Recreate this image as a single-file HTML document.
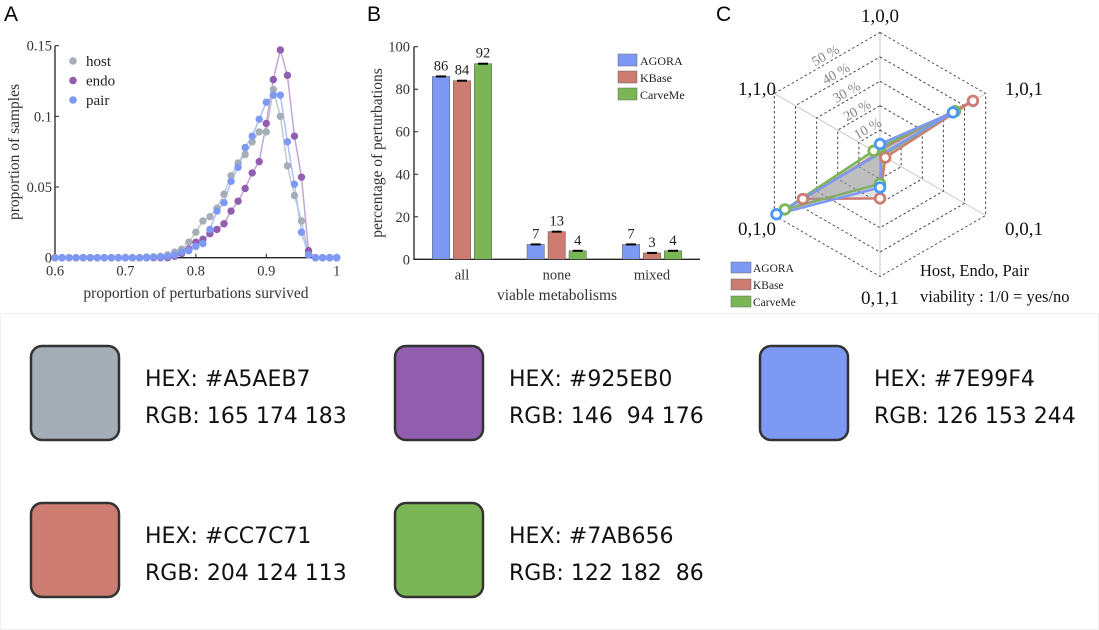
<!DOCTYPE html>
<html><head><meta charset="utf-8">
<style>
html,body{margin:0;padding:0;background:#fff;}
svg{display:block;}
.serif{font-family:"Liberation Serif","DejaVu Serif",serif;}
.sw{font-family:"DejaVu Sans","Liberation Sans",sans-serif;font-size:22px;fill:#111;}
</style></head>
<body>
<svg id="root" width="1099" height="630" viewBox="0 0 1099 630" xmlns="http://www.w3.org/2000/svg">
<rect x="0.5" y="313.5" width="1098" height="316" fill="#fff" stroke="#f0f0f0"/>
<text x="4" y="21" font-family="Liberation Sans,sans-serif" font-size="21">A</text>
<text x="367" y="21" font-family="Liberation Sans,sans-serif" font-size="21">B</text>
<text x="716" y="21" font-family="Liberation Sans,sans-serif" font-size="21">C</text>
<g id="panelA" class="serif"></g>
<g id="panelB" class="serif"></g>
<g id="panelC" class="serif"></g>
<g id="swatches"></g>
</svg>
<script>
// ---- Panel A data ----
const aX = [0.6,0.61,0.62,0.63,0.64,0.65,0.66,0.67,0.68,0.69,0.7,0.71,0.72,0.73,0.74,0.75,0.76,0.77,0.78,0.79,0.8,0.81,0.82,0.83,0.84,0.85,0.86,0.87,0.88,0.89,0.9,0.91,0.92,0.93,0.94,0.95,0.96,0.97,0.98,0.99,1.0];
const hostY = [0,0,0,0,0,0,0,0,0,0,0,0,0,0.0005,0.0005,0.001,0.002,0.004,0.006,0.011,0.018,0.026,0.029,0.035,0.045,0.058,0.067,0.073,0.082,0.089,0.089,0.119,0.100,0.065,0.044,0.026,0.003,0,0,0,0];
const endoY = [0,0,0,0,0,0,0,0,0,0,0,0,0,0,0,0,0,0.001,0.003,0.006,0.011,0.013,0.017,0.020,0.024,0.033,0.040,0.049,0.060,0.068,0.095,0.126,0.147,0.129,0.086,0.057,0.005,0,0,0,0];
const pairY = [0,0,0,0,0,0,0,0,0,0,0,0,0,0,0.0005,0.0005,0.001,0.002,0.004,0.005,0.008,0.010,0.020,0.033,0.039,0.054,0.064,0.078,0.086,0.098,0.110,0.115,0.115,0.082,0.052,0.018,0.002,0,0,0,0];
const aXTicks = [0.6,0.7,0.8,0.9,1];
const aXTickLabels = ["0.6","0.7","0.8","0.9","1"];
const aYTicks = [0,0.05,0.1,0.15];
const aYTickLabels = ["0","0.05","0.1","0.15"];
const aSeriesNames = ["host","endo","pair"];
// ---- Panel B data ----
const bCategories = ["all","none","mixed"];
const bSeriesNames = ["AGORA","KBase","CarveMe"];
const bAgora = [86,7,7];
const bKbase = [84,13,3];
const bCarveme = [92,4,4];
const bYTicks = [0,20,40,60,80,100];
// ---- Panel C data ----
const cAxes = ["1,0,0","1,0,1","0,0,1","0,1,1","0,1,0","1,1,0"];
const cAgora = [4.3,34.5,0.5,13.5,49,0.5];
const cKbase = [2,44,2.5,18,36.5,1];
const cCarveme = [3,35.5,1,12,45,3];
const cRings = [10,20,30,40,50];
const cRingLabels = ["10 %","20 %","30 %","40 %","50 %"];
// ---- swatches ----
const swHex = ["#A5AEB7","#925EB0","#7E99F4","#CC7C71","#7AB656"];
const swRgb = ["165 174 183","146  94 176","126 153 244","204 124 113","122 182  86"];

const NS="http://www.w3.org/2000/svg";
function mk(parent,tag,attrs,text){const e=document.createElementNS(NS,tag);for(const k in attrs)e.setAttribute(k,attrs[k]);if(text!==undefined)e.textContent=text;parent.appendChild(e);return e;}

// ===== Panel A =====
(function(){
const g=document.getElementById('panelA');
const x0=55,x1=336.7,y0=257.7,y1=45.7;
const sx=v=>x0+(v-0.6)/0.4*(x1-x0);
const sy=v=>y0-(v/0.15)*(y0-y1);
const cols=["#a5aeb7","#925eb0","#7e99f4"];
const lineCols=["#c3c9cf","#c3a6d6","#b0c0f8"];
const ser=[hostY,endoY,pairY];
let ax=mk(g,'path',{d:`M${x0},${y1}V${y0}H${x1}`,stroke:'#222',fill:'none','stroke-width':1.3});

aXTicks.forEach((t,i)=>{
 const l=mk(g,'line',{x1:sx(t),x2:sx(t),y1:y0,y2:y0-4,stroke:'#222'});
 
 const tx=mk(g,'text',{x:sx(t),y:y0+18,'text-anchor':'middle','font-size':14.5,fill:'#333'},aXTickLabels[i]);
 
});
aYTicks.forEach((t,i)=>{
 const l=mk(g,'line',{x1:x0,x2:x0+4,y1:sy(t),y2:sy(t),stroke:'#222'});
 
 const tx=mk(g,'text',{x:x0-3,y:sy(t)+5,'text-anchor':'end','font-size':14.5,fill:'#333'},aYTickLabels[i]);
 
});
ser.forEach((s,k)=>{
 const p=mk(g,'polyline',{points:s.map((v,i)=>sx(aX[i])+','+sy(v)).join(' '),fill:'none',stroke:lineCols[k],'stroke-width':1.5});
 
});
ser.forEach((s,k)=>{s.forEach((v,i)=>{
 const c=mk(g,'circle',{cx:sx(aX[i]),cy:sy(v),r:3.7,fill:cols[k]});
 
});});
aSeriesNames.forEach((n,k)=>{
 const c=mk(g,'circle',{cx:73,cy:61+k*19.5,r:3.8,fill:cols[k]});
 
 const t=mk(g,'text',{x:86,y:66+k*19.5,'font-size':15,fill:'#222'},n);
 
});
const xt=mk(g,'text',{x:196,y:298,'text-anchor':'middle','font-size':15.5,fill:'#333'},'proportion of perturbations survived');

const yt=mk(g,'text',{x:0,y:0,'text-anchor':'middle','font-size':15.5,fill:'#333',transform:'translate(19,152) rotate(-90)'},'proportion of samples');

})();

// ===== Panel B =====
(function(){
const g=document.getElementById('panelB');
const x0=414,x1=700,y0=259.3,y1=46.7;
const sy=v=>y0-v/100*(y0-y1);
const centers=[462,556.7,652];
const bw=17.3,gap=21;
const cols=["#7e99f4","#cc7c71","#7ab656"];
const ser=[bAgora,bKbase,bCarveme];
const ax=mk(g,'path',{d:`M${x0},${y1}V${y0}H${x1}`,stroke:'#222',fill:'none','stroke-width':1.3});

bYTicks.forEach(t=>{
 const l=mk(g,'line',{x1:x0,x2:x0+4,y1:sy(t),y2:sy(t),stroke:'#222'});
 
 const tx=mk(g,'text',{x:x0-4,y:sy(t)+5,'text-anchor':'end','font-size':14.5,fill:'#333'},String(t));
 
});
bCategories.forEach((c,i)=>{
 const t=mk(g,'text',{x:centers[i],y:y0+20,'text-anchor':'middle','font-size':14.5,fill:'#333'},c);
 
 ser.forEach((s,k)=>{
  const cx=centers[i]+(k-1)*gap;
  const r=mk(g,'rect',{x:cx-bw/2,y:sy(s[i]),width:bw,height:y0-sy(s[i]),fill:cols[k],stroke:'#555','stroke-width':0.5});
  
  const e=mk(g,'line',{x1:cx-5,x2:cx+5,y1:sy(s[i]),y2:sy(s[i]),stroke:'#000','stroke-width':2});
  
  const v=mk(g,'text',{x:cx,y:sy(s[i])-6,'text-anchor':'middle','font-size':14.5,fill:'#222'},String(s[i]));
  
 });
});
bSeriesNames.forEach((n,k)=>{
 const r=mk(g,'rect',{x:618,y:54+k*17,width:19,height:12,fill:cols[k],stroke:'#666','stroke-width':0.5});
 
 const t=mk(g,'text',{x:640,y:65+k*17,'font-size':12,fill:'#222'},n);
 
});
const xt=mk(g,'text',{x:557,y:300,'text-anchor':'middle','font-size':15.5,fill:'#333'},'viable metabolisms');

const yt=mk(g,'text',{x:0,y:0,'text-anchor':'middle','font-size':15.5,fill:'#333',transform:'translate(382,153) rotate(-90)'},'percentage of perturbations');

})();

// ===== Panel C =====
(function(){
const g=document.getElementById('panelC');
const cx=880,cy=154.5,R=122,maxV=50;
const angs=[90,30,-30,-90,-150,150].map(a=>a*Math.PI/180);
const pt=(v,i)=>[cx+Math.cos(angs[i])*v/maxV*R, cy-Math.sin(angs[i])*v/maxV*R];
for(let i=0;i<3;i++){
 const a=pt(maxV,i),b=pt(maxV,i+3);
 const l=mk(g,'line',{x1:a[0],y1:a[1],x2:b[0],y2:b[1],stroke:'#c8c8c8','stroke-width':1});
 
}
cRings.forEach(r=>{
 const p=mk(g,'polygon',{points:angs.map((_,i)=>pt(r,i).join(',')).join(' '),fill:'none',stroke:'#444','stroke-width':1,'stroke-dasharray':'2.5,2.5'});
 
});
cRings.forEach((r,i)=>{
 const p=pt(r,5);const q=pt(r,0);
 const x=(p[0]+q[0])/2-2, y=(p[1]+q[1])/2-8;
 const t=mk(g,'text',{x:0,y:5,'text-anchor':'middle','font-size':14,fill:'#888',transform:`translate(${x},${y}) rotate(-30)`},cRingLabels[i]);
 
});
const labPos=[[880,22,'middle'],[1005,95,'start'],[1005,235,'start'],[880,304,'middle'],[776,235,'end'],[776,95,'end']];
cAxes.forEach((a,i)=>{
 const t=mk(g,'text',{x:labPos[i][0],y:labPos[i][1],'text-anchor':labPos[i][2],'font-size':19,fill:'#111'},a);
 
});
const lineCols=["#7e99f4","#cc7c71","#7ab656"];
const mkCols=["#4a9af5","#cc7c71","#7ab656"];
const ser=[cKbase,cCarveme,cAgora];const idx=[1,2,0];
ser.forEach((s,k)=>{
 const p=mk(g,'polygon',{points:s.map((v,i)=>pt(v,i).join(',')).join(' '),fill:'rgba(150,150,150,0.28)',stroke:lineCols[idx[k]],'stroke-width':2.5,'stroke-linejoin':'round'});
 
});
ser.forEach((s,k)=>{s.forEach((v,i)=>{
 if(v<1.5) return;
 const q=pt(v,i);
 const c=mk(g,'circle',{cx:q[0],cy:q[1],r:4.8,fill:'#fff',stroke:mkCols[idx[k]],'stroke-width':2.8});
 
});});
bSeriesNames.forEach((n,k)=>{
 const r=mk(g,'rect',{x:731,y:262+k*17,width:20,height:11,fill:lineCols[k],stroke:'#666','stroke-width':0.5});
 
 const t=mk(g,'text',{x:753,y:272+k*17,'font-size':11.5,fill:'#222'},n);
 
});
const n1=mk(g,'text',{x:920,y:276,'font-size':16.5,fill:'#111'},'Host, Endo, Pair');

const n2=mk(g,'text',{x:920,y:302,'font-size':16.5,fill:'#111'},'viability : 1/0 = yes/no');

})();

// ===== Swatches =====
(function(){
const g=document.getElementById('swatches');
const pos=[[31,346],[395,346],[760,346],[31,503],[395,503]];
swHex.forEach((h,i)=>{
 const [x,y]=pos[i];
 const r=mk(g,'rect',{x:x,y:y,width:88,height:94,rx:11,fill:h,stroke:'#333','stroke-width':2.5});
 
 const t1=mk(g,'text',{x:x+114,y:y+40,'class':'sw'},'HEX: '+h);
 
 const t2=mk(g,'text',{x:x+114,y:y+77,'class':'sw'},'RGB: '+swRgb[i]);
 t2.setAttribute('style','white-space:pre');
 
});
})();
</script>
</body></html>
